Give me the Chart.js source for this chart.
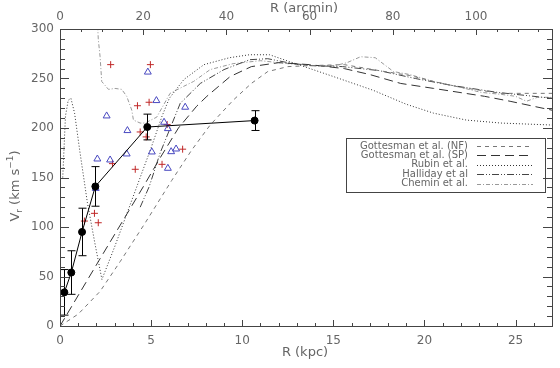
<!DOCTYPE html>
<html><head><meta charset="utf-8">
<script src="https://cdn.jsdelivr.net/npm/chart.js@4/dist/chart.umd.min.js"></script>
<style>html,body{margin:0;padding:0;background:#fff}</style>
</head><body>
<canvas id="c" width="560" height="368"></canvas>
<script>
// ---- axes ----
const KPC_PER_ARCMIN = 0.2283;
const X_MAX = 27, Y_MAX = 300;
const xTickVals = [0, 5, 10, 15, 20, 25];
const yTickVals = [0, 50, 100, 150, 200, 250, 300];
const arcTickVals = [0, 20, 40, 60, 80, 100];

// ---- observed points with error bars ----
const obsR   = [0.24, 0.62, 1.21, 1.94, 4.79, 10.68];
const obsV   = [34, 54, 95, 141, 201, 207.5];
const obsErr = [23, 22, 24, 20, 13, 10];

// ---- red crosses ----
const plusR = [2.78, 4.96, 4.25, 4.89, 4.40, 4.73, 5.88, 6.73, 5.60, 4.13, 2.88, 1.34, 1.89, 2.10];
const plusV = [264, 264, 222.5, 226, 196, 191, 203.5, 178.6, 163.3, 158.3, 164, 106, 113.8, 104.3];

// ---- blue triangles ----
const triR = [4.82, 5.29, 6.87, 2.56, 5.71, 5.92, 3.70, 5.04, 6.10, 6.37, 5.92, 3.66, 2.05, 2.75, 1.96];
const triV = [256.5, 227.7, 221, 212.2, 205.8, 199.4, 197.4, 175.8, 176.1, 178.8, 159.3, 173.8, 168.7, 167.7, 139];

// ---- model / literature curves ----
const nfR = [0, 1.0, 2.2, 3.3, 4.67, 6.13, 7.2, 8.24, 9.5, 10.5, 11.4, 12.5, 13.7, 15.6, 17.5, 19.2, 20.5, 22, 24.2, 27];
const nfV = [0, 12, 35, 65, 104, 147, 177, 203, 228, 245, 257, 262, 263, 264, 258, 253, 247, 241, 235, 235];

const spR = [0, 2.2, 4.58, 5.5, 6.5, 7.5, 8.06, 9.34, 10.5, 12, 13.7, 15.6, 17, 18.7, 20.5, 23.3, 24.7, 27];
const spV = [0, 68, 141, 170, 200, 222, 232, 252, 262, 266, 264, 260, 254, 245, 240, 232, 227, 218];

const rubinR = [0.15, 0.3, 0.45, 0.6, 0.8, 1.1, 1.5, 1.9, 2.3, 3.0, 3.6, 4.2, 5.0, 5.6, 6.0, 6.8, 7.9, 9.3, 10.4, 11.5, 12.6, 15, 17.2, 19, 20.5, 22.3, 24.2, 27];
const rubinV = [150, 212, 228, 230, 215, 175, 125, 85, 47, 80, 110, 140, 180, 212, 230, 249, 264, 271, 274, 274, 267, 252, 238, 224, 215, 208, 205, 203];

const hallR = [4.4, 4.9, 5.5, 6.6, 7.7, 9.0, 10.4, 11.4, 12.5, 13.7, 15.5, 17.5, 19.5, 21.5, 24, 27];
const hallV = [120, 141, 175, 225, 245, 259, 269, 270, 266, 263, 262, 258, 250, 243, 236, 230];

const cheR = [2.0, 2.1, 2.2, 2.29, 2.66, 3.02, 3.39, 3.66, 3.94, 4.03, 4.4, 4.67, 5.31, 6.04, 6.78, 7.33, 8.24, 9.5, 11, 12.5, 14, 15.1, 15.75, 16.5, 17.3, 18.3, 19.2, 20.5, 22, 23.1, 24.2, 25, 25.6, 26.2, 27];
const cheV = [330, 290, 272, 247, 239, 240, 239, 232, 218, 208, 205, 205, 211, 235, 242, 247, 259, 265, 268, 265, 263, 263, 266, 272, 271, 257, 254, 247, 241, 236, 234, 232, 227, 231, 231];

const legendNames = ['Gottesman et al. (NF)', 'Gottesman et al. (SP)', 'Rubin et al.', 'Halliday et al', 'Chemin et al.'];

const pts = (xs, ys) => xs.map((x, i) => ({x: x, y: ys[i]}));

const styles = [
  {color: '#777', dash: [4, 4], width: 1},
  {color: '#333', dash: [9, 5], width: 1},
  {color: '#333', dash: [1, 2], width: 1},
  {color: '#444', dash: [7, 2, 1, 2, 1, 2], width: 1},
  {color: '#999', dash: [4, 2, 1, 2], width: 1}
];
const curveR = [nfR, spR, rubinR, hallR, cheR];
const curveV = [nfV, spV, rubinV, hallV, cheV];

const lineSets = curveR.map((r, k) => ({
  label: legendNames[k], data: pts(r, curveV[k]), showLine: true, pointRadius: 0,
  borderColor: styles[k].color, borderDash: styles[k].dash, borderWidth: styles[k].width,
  fill: false, tension: 0, order: 10 + k
}));

const FONT = '"DejaVu Sans", sans-serif';
const TXT = '#666';

const decor = {
  id: 'decor',
  afterDatasetsDraw(chart) {
    const ctx = chart.ctx, xs = chart.scales.x, ys = chart.scales.y, xt = chart.scales.x2;
    const a = chart.chartArea;
    ctx.save();
    // error bars
    ctx.strokeStyle = '#000'; ctx.lineWidth = 1; ctx.setLineDash([]);
    obsR.forEach((r, i) => {
      const px = Math.round(xs.getPixelForValue(r)) + 0.5;
      const y1 = ys.getPixelForValue(obsV[i] + obsErr[i]);
      const y2 = ys.getPixelForValue(obsV[i] - obsErr[i]);
      ctx.beginPath();
      ctx.moveTo(px, y1); ctx.lineTo(px, y2);
      ctx.moveTo(px - 4, y1); ctx.lineTo(px + 4, y1);
      ctx.moveTo(px - 4, y2); ctx.lineTo(px + 4, y2);
      ctx.stroke();
    });
    // frame
    ctx.strokeStyle = '#444';
    ctx.strokeRect(Math.round(a.left) + 0.5, Math.round(a.top) + 0.5, Math.round(a.right - a.left), Math.round(a.bottom - a.top));
    // ticks
    ctx.beginPath();
    for (let v = 0; v <= X_MAX; v += 1) {
      const p = Math.round(xs.getPixelForValue(v)) + 0.5;
      const L = v % 5 === 0 ? 6 : 3;
      ctx.moveTo(p, a.bottom); ctx.lineTo(p, a.bottom - L);
    }
    for (let v = 0; v <= xt.max; v += 5) {
      const p = Math.round(xt.getPixelForValue(v)) + 0.5;
      const L = v % 20 === 0 ? 6 : 3;
      ctx.moveTo(p, a.top); ctx.lineTo(p, a.top + L);
    }
    for (let v = 0; v <= Y_MAX; v += 10) {
      const p = Math.round(ys.getPixelForValue(v)) + 0.5;
      const L = v % 50 === 0 ? 9 : 5;
      ctx.moveTo(a.left, p); ctx.lineTo(a.left + L, p);
      ctx.moveTo(a.right, p); ctx.lineTo(a.right - L, p);
    }
    ctx.stroke();
    // axis titles
    ctx.fillStyle = TXT;
    ctx.font = '13px ' + FONT;
    ctx.textAlign = 'center'; ctx.textBaseline = 'middle';
    ctx.fillText('R (kpc)', 305, 353);
    ctx.fillText('R (arcmin)', 304, 9);
    // y title rotated with sub/superscript
    ctx.save();
    ctx.translate(16, 186);
    ctx.rotate(-Math.PI / 2);
    const parts = [['V', 13, 0], ['r', 9, 4], [' (km s', 13, 0], ['\u22121', 9, -5], [')', 13, 0]];
    let total = 0;
    parts.forEach(p => { ctx.font = p[1] + 'px ' + FONT; total += ctx.measureText(p[0]).width; });
    let cx = -total / 2;
    ctx.textAlign = 'left';
    parts.forEach(p => { ctx.font = p[1] + 'px ' + FONT; ctx.fillText(p[0], cx, p[2]); cx += ctx.measureText(p[0]).width; });
    ctx.restore();
    // legend
    ctx.strokeStyle = '#444'; ctx.lineWidth = 1; ctx.setLineDash([]);
    ctx.strokeRect(346.5, 138.5, 199, 54);
    ctx.font = '10px ' + FONT; ctx.textAlign = 'right'; ctx.textBaseline = 'middle';
    const rowsY = [146, 155, 164.5, 174, 183.5];
    legendNames.forEach((n, k) => {
      ctx.fillStyle = TXT;
      ctx.fillText(n, 468, rowsY[k]);
      ctx.strokeStyle = styles[k].color; ctx.setLineDash(styles[k].dash);
      ctx.beginPath(); ctx.moveTo(477, Math.round(rowsY[k]) + 0.5); ctx.lineTo(533, Math.round(rowsY[k]) + 0.5); ctx.stroke();
    });
    ctx.restore();
  }
};

new Chart(document.getElementById('c'), {
  type: 'scatter',
  data: {
    datasets: [
      {label: 'obs', data: pts(obsR, obsV), showLine: true, borderColor: '#000', borderWidth: 1,
       pointRadius: 3.5, pointBackgroundColor: '#000', pointBorderColor: '#000', tension: 0, order: 0},
      {label: 'plus', data: pts(plusR, plusV), pointStyle: 'cross', pointRadius: 3.5, borderColor: '#c02828', borderWidth: 1, order: 2},
      {label: 'tri', data: pts(triR, triV), pointStyle: 'triangle', pointRadius: 4, borderColor: '#4848c0', backgroundColor: 'rgba(0,0,0,0)', borderWidth: 1, order: 1},
      ...lineSets
    ]
  },
  options: {
    responsive: false, animation: false, devicePixelRatio: 1,
    layout: {padding: {left: 0, right: 8, top: 0, bottom: 0}},
    plugins: {legend: {display: false}, tooltip: {enabled: false}},
    scales: {
      x: {type: 'linear', position: 'bottom', min: 0, max: X_MAX,
          afterFit(s) { s.height = 42; },
          afterBuildTicks(s) { s.ticks = xTickVals.map(v => ({value: v})); },
          grid: {display: false, drawTicks: false}, border: {display: false},
          ticks: {color: TXT, font: {family: FONT, size: 12}, padding: 8, maxRotation: 0}},
      x2: {type: 'linear', position: 'top', min: 0, max: X_MAX / KPC_PER_ARCMIN,
          afterFit(s) { s.height = 29; },
          afterBuildTicks(s) { s.ticks = arcTickVals.map(v => ({value: v})); },
          grid: {display: false, drawTicks: false}, border: {display: false},
          ticks: {color: TXT, font: {family: FONT, size: 12}, padding: 5, maxRotation: 0}},
      y: {type: 'linear', position: 'left', min: 0, max: Y_MAX,
          afterFit(s) { s.width = 60; },
          afterBuildTicks(s) { s.ticks = yTickVals.map(v => ({value: v})); },
          grid: {display: false, drawTicks: false}, border: {display: false},
          ticks: {color: TXT, font: {family: FONT, size: 12}, padding: 6}}
    }
  },
  plugins: [decor]
});
</script>
</body></html>
